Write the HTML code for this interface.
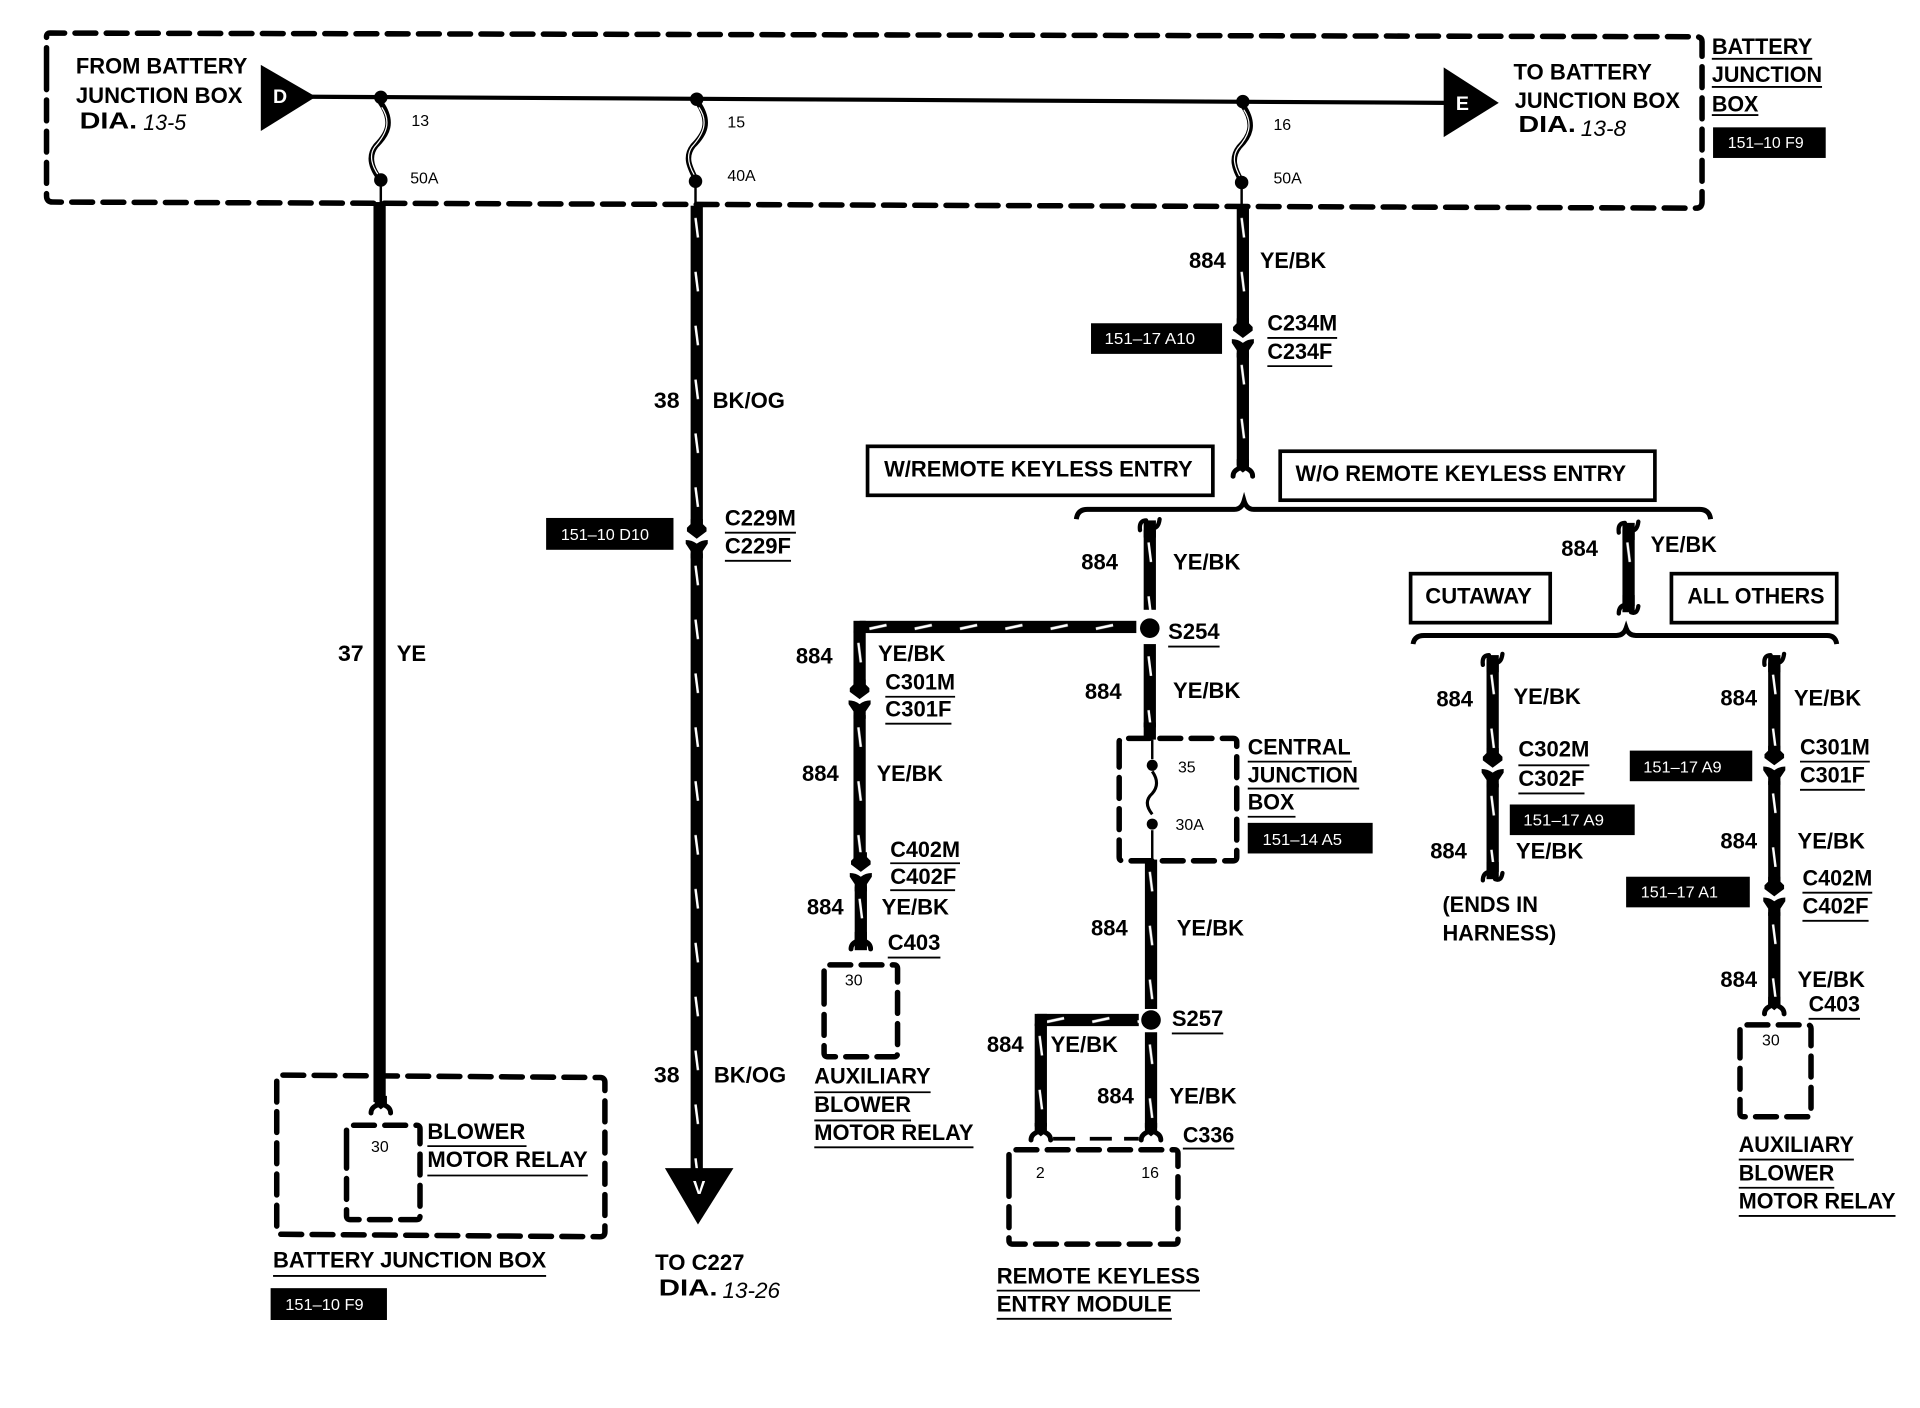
<!DOCTYPE html>
<html><head><meta charset="utf-8"><style>
html,body{margin:0;padding:0;background:#fff}
svg{display:block}
text{font-family:"Liberation Sans",sans-serif;fill:#000}
.b{font-weight:700;font-size:18px}
.s{font-size:13px}
.w{font-size:13px;fill:#fff}
.d{font-weight:700;font-size:19px}
.i{font-style:italic;font-size:18px}
.u{stroke:#000;stroke-width:1.5;fill:none}
.dash{stroke:#000;stroke-width:4.5;fill:none;stroke-linecap:round;stroke-dasharray:17 8.5}
.r{stroke:#000;stroke-width:3;fill:#fff}
</style></head><body>
<svg xmlns="http://www.w3.org/2000/svg" width="1920" height="1408" viewBox="0 0 1568 1149.87">
<defs>
<pattern id="v" patternUnits="userSpaceOnUse" width="10" height="44"><rect width="10" height="44" fill="#000"/><path d="M4 10L6 26" stroke="#fff" stroke-width="2"/></pattern>
<pattern id="h" patternUnits="userSpaceOnUse" width="37" height="10"><rect width="37" height="10" fill="#000"/><path d="M8 6.5L22 3.5" stroke="#fff" stroke-width="2.2"/></pattern>
<g id="conn"><path d="M-5 -16H5V-12L8 -9V-6L0 0L-8 -6V-9L-5 -12Z" fill="#000"/><path d="M-9 1Q-4 1 0 4Q4 1 9 1V4L5 10V16H-5V10L-9 4Z" fill="#000"/></g>
<g id="fork"><path d="M-8 0Q-8 -4 -4 -6Q-1 -7 0 -11Q1 -7 4 -6Q8 -4 8 0" fill="none" stroke="#000" stroke-width="4" stroke-linecap="round"/><path d="M-5 -14H5V-7L0 -3L-5 -7Z" fill="#000"/></g>
<g id="top"><path d="M-8 3Q-9 -5 -3 -5M8 -6Q7 2 2 1" fill="none" stroke="#000" stroke-width="3.5" stroke-linecap="round"/><rect x="-5" y="-5" width="10" height="14" fill="#000"/></g>
<g id="end"><path d="M-8 1Q-8 -5 -3 -6M8 -5Q7 2 2 0" fill="none" stroke="#000" stroke-width="3.5" stroke-linecap="round"/><rect x="-5" y="-14" width="10" height="14" fill="#000"/></g>
</defs>

<!-- top box -->
<path class="dash" d="M38 56V30Q38 27 41 27L1385 30Q1390 30 1390 34V165Q1390 170 1385 170L43 165Q38 165 38 160V56"/>
<path d="M213 53L258 79L213 107Z" fill="#000"/>
<path d="M1179 55L1224 84L1179 112Z" fill="#000"/>
<path d="M255 79L1182 84" stroke="#000" stroke-width="3.4"/>
<text x="223" y="84" font-size="16" font-weight="700" style="fill:#fff">D</text>
<text x="1189" y="90" font-size="16" font-weight="700" style="fill:#fff">E</text>

<!-- fuses -->
<g fill="none" stroke-linecap="round">
<path d="M311 84C322 100 316 110 307 119C300 128 304 138 310 146" stroke="#000" stroke-width="4.5"/>
<path d="M312 88C320 100 315 110 306 120C301 127 304 136 309 143" stroke="#fff" stroke-width="1"/>
<path d="M570 84C581 100 575 110 566 119C559 128 563 136 568 146" stroke="#000" stroke-width="4.5"/>
<path d="M571 88C579 100 574 110 565 120C560 127 563 136 567 143" stroke="#fff" stroke-width="1"/>
<path d="M1015 86C1026 102 1020 112 1012 120C1005 129 1008 138 1014 148" stroke="#000" stroke-width="4.5"/>
<path d="M1016 90C1024 102 1019 112 1011 121C1006 128 1008 136 1013 145" stroke="#fff" stroke-width="1"/>
</g>
<circle cx="311" cy="79.5" r="5.5"/><circle cx="311" cy="147" r="5.5"/>
<circle cx="569" cy="81" r="5.5"/><circle cx="568" cy="148" r="5.5"/>
<circle cx="1015" cy="83" r="5.5"/><circle cx="1014" cy="149" r="5.5"/>
<path d="M311 150V166M568 150V168M1014 150V170" stroke="#000" stroke-width="2"/>

<text class="b" x="62" y="60" textLength="140" lengthAdjust="spacingAndGlyphs">FROM BATTERY</text>
<text class="b" x="62" y="84" textLength="136" lengthAdjust="spacingAndGlyphs">JUNCTION BOX</text>
<text class="d" x="65" y="105" textLength="47" lengthAdjust="spacingAndGlyphs">DIA.</text>
<text class="i" x="117" y="106" textLength="35" lengthAdjust="spacingAndGlyphs">13-5</text>
<text class="s" x="336" y="103">13</text><text class="s" x="335" y="150">50A</text>
<text class="s" x="594" y="104">15</text><text class="s" x="594" y="148">40A</text>
<text class="s" x="1040" y="106">16</text><text class="s" x="1040" y="150">50A</text>
<text class="b" x="1236" y="65" textLength="113" lengthAdjust="spacingAndGlyphs">TO BATTERY</text>
<text class="b" x="1237" y="88" textLength="135" lengthAdjust="spacingAndGlyphs">JUNCTION BOX</text>
<text class="d" x="1240" y="108" textLength="47" lengthAdjust="spacingAndGlyphs">DIA.</text>
<text class="i" x="1291" y="111" textLength="37" lengthAdjust="spacingAndGlyphs">13-8</text>
<text class="b" x="1398" y="44" textLength="82" lengthAdjust="spacingAndGlyphs">BATTERY</text>
<path class="u" d="M1398 48H1480M1398 71H1488M1398 94H1436"/>
<text class="b" x="1398" y="67" textLength="90" lengthAdjust="spacingAndGlyphs">JUNCTION</text>
<text class="b" x="1398" y="91" textLength="38" lengthAdjust="spacingAndGlyphs">BOX</text>
<rect x="1399" y="104" width="92" height="25"/>
<text class="w" x="1411" y="121" textLength="62" lengthAdjust="spacingAndGlyphs">151–10 F9</text>

<!-- wire 37 -->
<rect x="305" y="165" width="10" height="735"/>
<use href="#fork" x="311" y="909"/>
<text class="b" x="276" y="540" textLength="21" lengthAdjust="spacingAndGlyphs">37</text>
<text class="b" x="324" y="540" textLength="24" lengthAdjust="spacingAndGlyphs">YE</text>
<path class="dash" d="M226 900V882Q226 878 230 878L490 880Q494 880 494 884V1006Q494 1010 490 1010L230 1008Q226 1008 226 1004V900"/>
<path class="dash" d="M283 940V922Q283 919 286 919H340Q343 919 343 922V993Q343 996 340 996H286Q283 996 283 993V940"/>
<text class="s" x="303" y="941">30</text>
<text class="b" x="349" y="930" textLength="80" lengthAdjust="spacingAndGlyphs">BLOWER</text>
<text class="b" x="349" y="953" textLength="131" lengthAdjust="spacingAndGlyphs">MOTOR RELAY</text>
<path class="u" d="M349 936H430M349 960H480M223 1042H446"/>
<text class="b" x="223" y="1035" textLength="223" lengthAdjust="spacingAndGlyphs">BATTERY JUNCTION BOX</text>
<rect x="221" y="1052" width="95" height="26"/>
<text class="w" x="233" y="1070" textLength="64" lengthAdjust="spacingAndGlyphs">151–10 F9</text>

<!-- wire 38 -->
<rect width="10" height="264" fill="url(#v)" transform="translate(564 168)"/>
<use href="#conn" x="569" y="440"/>
<rect width="10" height="506" fill="url(#v)" transform="translate(564 452)"/>
<path d="M543 954H599L570 1000Z" fill="#000"/>
<text x="566" y="975" font-size="15" font-weight="700" style="fill:#fff">V</text>
<text class="b" x="534" y="333" textLength="21" lengthAdjust="spacingAndGlyphs">38</text>
<text class="b" x="582" y="333" textLength="59" lengthAdjust="spacingAndGlyphs">BK/OG</text>
<text class="b" x="534" y="884" textLength="21" lengthAdjust="spacingAndGlyphs">38</text>
<text class="b" x="583" y="884" textLength="59" lengthAdjust="spacingAndGlyphs">BK/OG</text>
<rect x="446" y="423" width="104" height="26"/>
<text class="w" x="458" y="441" textLength="72" lengthAdjust="spacingAndGlyphs">151–10 D10</text>
<text class="b" x="592" y="429" textLength="58" lengthAdjust="spacingAndGlyphs">C229M</text>
<text class="b" x="592" y="452" textLength="54" lengthAdjust="spacingAndGlyphs">C229F</text>
<path class="u" d="M592 435H650M592 458H646"/>
<text class="b" x="535" y="1037" textLength="73" lengthAdjust="spacingAndGlyphs">TO C227</text>
<text class="d" x="538" y="1058" textLength="48" lengthAdjust="spacingAndGlyphs">DIA.</text>
<text class="i" x="590" y="1060" textLength="47" lengthAdjust="spacingAndGlyphs">13-26</text>

<!-- wire 884 top -->
<rect width="10" height="100" fill="url(#v)" transform="translate(1010 168)"/>
<use href="#conn" x="1015" y="276"/>
<rect width="10" height="92" fill="url(#v)" transform="translate(1010 288)"/>
<use href="#fork" x="1015" y="389"/>
<text class="b" x="971" y="219" textLength="30" lengthAdjust="spacingAndGlyphs">884</text>
<text class="b" x="1029" y="219" textLength="54" lengthAdjust="spacingAndGlyphs">YE/BK</text>
<rect x="891" y="264" width="107" height="25"/>
<text class="w" x="902" y="281" textLength="74" lengthAdjust="spacingAndGlyphs">151–17 A10</text>
<text class="b" x="1035" y="270" textLength="57" lengthAdjust="spacingAndGlyphs">C234M</text>
<text class="b" x="1035" y="293" textLength="53" lengthAdjust="spacingAndGlyphs">C234F</text>
<path class="u" d="M1035 276H1092M1035 299H1088"/>

<rect class="r" x="708.5" y="364.5" width="282" height="40"/>
<text class="b" x="722" y="389" textLength="252" lengthAdjust="spacingAndGlyphs">W/REMOTE KEYLESS ENTRY</text>
<rect class="r" x="1045.5" y="368.5" width="306" height="40"/>
<text class="b" x="1058" y="393" textLength="270" lengthAdjust="spacingAndGlyphs">W/O REMOTE KEYLESS ENTRY</text>

<path d="M879 424Q880 416 888 416H1008Q1014 416 1016 409Q1018 416 1024 416H1388Q1396 416 1397 424" fill="none" stroke="#000" stroke-width="4"/>
<path d="M1154 526Q1155 519 1163 519H1320Q1326 519 1328 513Q1330 519 1336 519H1492Q1499 519 1500 526" fill="none" stroke="#000" stroke-width="4"/>

<!-- center column -->
<use href="#top" x="939" y="430"/>
<rect width="10" height="65" fill="url(#v)" transform="translate(934 433)"/>
<text class="b" x="883" y="465" textLength="30" lengthAdjust="spacingAndGlyphs">884</text>
<text class="b" x="958" y="465" textLength="55" lengthAdjust="spacingAndGlyphs">YE/BK</text>
<circle cx="939" cy="513" r="8"/>
<rect width="10" height="68" fill="url(#v)" transform="translate(934 526)"/>
<rect x="934" y="590" width="10" height="14"/>
<text class="b" x="954" y="522" textLength="42" lengthAdjust="spacingAndGlyphs">S254</text>
<path class="u" d="M954 528H996"/>
<text class="b" x="886" y="571" textLength="30" lengthAdjust="spacingAndGlyphs">884</text>
<text class="b" x="958" y="570" textLength="55" lengthAdjust="spacingAndGlyphs">YE/BK</text>

<!-- left branch -->
<rect width="226" height="10" fill="url(#h)" transform="translate(702 507)"/>
<path d="M697 507H707V517H697Z"/>
<rect width="10" height="48" fill="url(#v)" transform="translate(697 515)"/>
<use href="#conn" x="702" y="571"/>
<rect width="10" height="118" fill="url(#v)" transform="translate(697 584)"/>
<use href="#conn" x="703" y="712"/>
<rect width="10" height="52" fill="url(#v)" transform="translate(698 724)"/>
<use href="#fork" x="703" y="775"/>
<text class="b" x="650" y="542" textLength="30" lengthAdjust="spacingAndGlyphs">884</text>
<text class="b" x="717" y="540" textLength="55" lengthAdjust="spacingAndGlyphs">YE/BK</text>
<text class="b" x="723" y="563" textLength="57" lengthAdjust="spacingAndGlyphs">C301M</text>
<text class="b" x="723" y="585" textLength="54" lengthAdjust="spacingAndGlyphs">C301F</text>
<path class="u" d="M723 569H780M723 591H777"/>
<text class="b" x="655" y="638" textLength="30" lengthAdjust="spacingAndGlyphs">884</text>
<text class="b" x="716" y="638" textLength="54" lengthAdjust="spacingAndGlyphs">YE/BK</text>
<text class="b" x="727" y="700" textLength="57" lengthAdjust="spacingAndGlyphs">C402M</text>
<text class="b" x="727" y="722" textLength="54" lengthAdjust="spacingAndGlyphs">C402F</text>
<path class="u" d="M727 705H784M727 727H780"/>
<text class="b" x="659" y="747" textLength="30" lengthAdjust="spacingAndGlyphs">884</text>
<text class="b" x="720" y="747" textLength="55" lengthAdjust="spacingAndGlyphs">YE/BK</text>
<text class="b" x="725" y="776" textLength="43" lengthAdjust="spacingAndGlyphs">C403</text>
<path class="u" d="M725 782H768"/>
<path class="dash" d="M673 810V791Q673 788 676 788H730Q733 788 733 791V860Q733 863 730 863H676Q673 863 673 860V810"/>
<text class="s" x="690" y="805">30</text>
<text class="b" x="665" y="885" textLength="95" lengthAdjust="spacingAndGlyphs">AUXILIARY</text>
<text class="b" x="665" y="908" textLength="79" lengthAdjust="spacingAndGlyphs">BLOWER</text>
<text class="b" x="665" y="931" textLength="130" lengthAdjust="spacingAndGlyphs">MOTOR RELAY</text>
<path class="u" d="M665 892H760M665 915H744M665 937H795"/>

<!-- central junction box -->
<path class="dash" d="M914 622V606Q914 603 917 603H1007Q1010 603 1010 606V700Q1010 703 1007 703H917Q914 703 914 700V622"/>
<path d="M941 604V620" stroke="#000" stroke-width="2"/>
<circle cx="941" cy="625" r="4.5"/><circle cx="941" cy="673" r="4.5"/>
<path d="M941 630Q948 640 941 648Q933 655 941 665" fill="none" stroke="#000" stroke-width="2.5"/>
<path d="M941 678V702" stroke="#000" stroke-width="2"/>
<text class="s" x="962" y="631">35</text>
<text class="s" x="960" y="678">30A</text>
<text class="b" x="1019" y="616" textLength="84" lengthAdjust="spacingAndGlyphs">CENTRAL</text>
<text class="b" x="1019" y="639" textLength="90" lengthAdjust="spacingAndGlyphs">JUNCTION</text>
<text class="b" x="1019" y="661" textLength="38" lengthAdjust="spacingAndGlyphs">BOX</text>
<path class="u" d="M1019 622H1104M1019 644H1110M1019 667H1058"/>
<rect x="1019" y="672" width="102" height="25"/>
<text class="w" x="1031" y="690" textLength="65" lengthAdjust="spacingAndGlyphs">151–14 A5</text>
<rect width="10" height="122" fill="url(#v)" transform="translate(935 702)"/>
<text class="b" x="891" y="764" textLength="30" lengthAdjust="spacingAndGlyphs">884</text>
<text class="b" x="961" y="764" textLength="55" lengthAdjust="spacingAndGlyphs">YE/BK</text>
<circle cx="940" cy="833" r="8"/>
<text class="b" x="957" y="838" textLength="42" lengthAdjust="spacingAndGlyphs">S257</text>
<path class="u" d="M957 844H999"/>
<rect width="83" height="10" fill="url(#h)" transform="translate(847 828)"/>
<rect x="845" y="828" width="10" height="10"/>
<rect width="10" height="84" fill="url(#v)" transform="translate(845 836)"/>
<use href="#fork" x="850" y="931"/>
<rect width="10" height="78" fill="url(#v)" transform="translate(935 843)"/>
<use href="#fork" x="940" y="931"/>
<path d="M860 930H878M890 930H908M918 930H930" stroke="#000" stroke-width="3"/>
<text class="b" x="806" y="859" textLength="30" lengthAdjust="spacingAndGlyphs">884</text>
<text class="b" x="858" y="859" textLength="55" lengthAdjust="spacingAndGlyphs">YE/BK</text>
<text class="b" x="896" y="901" textLength="30" lengthAdjust="spacingAndGlyphs">884</text>
<text class="b" x="955" y="901" textLength="55" lengthAdjust="spacingAndGlyphs">YE/BK</text>
<text class="b" x="966" y="933" textLength="42" lengthAdjust="spacingAndGlyphs">C336</text>
<path class="u" d="M966 938H1008"/>
<path class="dash" d="M824 960V942Q824 939 827 939H959Q962 939 962 942V1013Q962 1016 959 1016H827Q824 1016 824 1013V960"/>
<text class="s" x="846" y="962">2</text>
<text class="s" x="932" y="962">16</text>
<text class="b" x="814" y="1048" textLength="166" lengthAdjust="spacingAndGlyphs">REMOTE KEYLESS</text>
<text class="b" x="814" y="1071" textLength="143" lengthAdjust="spacingAndGlyphs">ENTRY MODULE</text>
<path class="u" d="M814 1054H980M814 1077H957"/>

<!-- right section -->
<use href="#top" x="1330" y="432"/>
<rect width="10" height="62" fill="url(#v)" transform="translate(1325 433)"/>
<use href="#end" x="1330" y="500"/>
<text class="b" x="1275" y="454" textLength="30" lengthAdjust="spacingAndGlyphs">884</text>
<text class="b" x="1348" y="451" textLength="54" lengthAdjust="spacingAndGlyphs">YE/BK</text>
<rect class="r" x="1152" y="468.5" width="114" height="40"/>
<text class="b" x="1164" y="493" textLength="87" lengthAdjust="spacingAndGlyphs">CUTAWAY</text>
<rect class="r" x="1365" y="468.5" width="135" height="40"/>
<text class="b" x="1378" y="493" textLength="112" lengthAdjust="spacingAndGlyphs">ALL OTHERS</text>

<use href="#top" x="1219" y="540"/>
<rect width="10" height="78" fill="url(#v)" transform="translate(1214 541)"/>
<use href="#conn" x="1219" y="627"/>
<rect width="10" height="72" fill="url(#v)" transform="translate(1214 640)"/>
<use href="#end" x="1219" y="718"/>
<text class="b" x="1173" y="577" textLength="30" lengthAdjust="spacingAndGlyphs">884</text>
<text class="b" x="1236" y="575" textLength="55" lengthAdjust="spacingAndGlyphs">YE/BK</text>
<text class="b" x="1240" y="618" textLength="58" lengthAdjust="spacingAndGlyphs">C302M</text>
<text class="b" x="1240" y="642" textLength="54" lengthAdjust="spacingAndGlyphs">C302F</text>
<path class="u" d="M1240 625H1298M1240 648H1294"/>
<rect x="1233" y="657" width="102" height="25"/>
<text class="w" x="1244" y="674" textLength="66" lengthAdjust="spacingAndGlyphs">151–17 A9</text>
<text class="b" x="1168" y="701" textLength="30" lengthAdjust="spacingAndGlyphs">884</text>
<text class="b" x="1238" y="701" textLength="55" lengthAdjust="spacingAndGlyphs">YE/BK</text>
<text class="b" x="1178" y="745" textLength="78" lengthAdjust="spacingAndGlyphs">(ENDS IN</text>
<text class="b" x="1178" y="768" textLength="93" lengthAdjust="spacingAndGlyphs">HARNESS)</text>

<use href="#top" x="1449" y="540"/>
<rect width="10" height="76" fill="url(#v)" transform="translate(1444 541)"/>
<use href="#conn" x="1449" y="625"/>
<rect width="10" height="88" fill="url(#v)" transform="translate(1444 638)"/>
<use href="#conn" x="1449" y="732"/>
<rect width="10" height="78" fill="url(#v)" transform="translate(1444 745)"/>
<use href="#fork" x="1449" y="828"/>
<text class="b" x="1405" y="576" textLength="30" lengthAdjust="spacingAndGlyphs">884</text>
<text class="b" x="1465" y="576" textLength="55" lengthAdjust="spacingAndGlyphs">YE/BK</text>
<text class="b" x="1470" y="616" textLength="57" lengthAdjust="spacingAndGlyphs">C301M</text>
<text class="b" x="1470" y="639" textLength="53" lengthAdjust="spacingAndGlyphs">C301F</text>
<path class="u" d="M1470 622H1527M1470 645H1523"/>
<rect x="1331" y="613" width="100" height="25"/>
<text class="w" x="1342" y="631" textLength="64" lengthAdjust="spacingAndGlyphs">151–17 A9</text>
<text class="b" x="1405" y="693" textLength="30" lengthAdjust="spacingAndGlyphs">884</text>
<text class="b" x="1468" y="693" textLength="55" lengthAdjust="spacingAndGlyphs">YE/BK</text>
<text class="b" x="1472" y="723" textLength="57" lengthAdjust="spacingAndGlyphs">C402M</text>
<text class="b" x="1472" y="746" textLength="54" lengthAdjust="spacingAndGlyphs">C402F</text>
<path class="u" d="M1472 729H1529M1472 752H1526"/>
<rect x="1328" y="716" width="101" height="25"/>
<text class="w" x="1340" y="733" textLength="63" lengthAdjust="spacingAndGlyphs">151–17 A1</text>
<text class="b" x="1405" y="806" textLength="30" lengthAdjust="spacingAndGlyphs">884</text>
<text class="b" x="1468" y="806" textLength="55" lengthAdjust="spacingAndGlyphs">YE/BK</text>
<text class="b" x="1477" y="826" textLength="42" lengthAdjust="spacingAndGlyphs">C403</text>
<path class="u" d="M1477 832H1519"/>
<path class="dash" d="M1421 858V840Q1421 837 1424 837H1476Q1479 837 1479 840V909Q1479 912 1476 912H1424Q1421 912 1421 909V858"/>
<text class="s" x="1439" y="854">30</text>
<text class="b" x="1420" y="941" textLength="94" lengthAdjust="spacingAndGlyphs">AUXILIARY</text>
<text class="b" x="1420" y="964" textLength="78" lengthAdjust="spacingAndGlyphs">BLOWER</text>
<text class="b" x="1420" y="987" textLength="128" lengthAdjust="spacingAndGlyphs">MOTOR RELAY</text>
<path class="u" d="M1420 947H1514M1420 970H1498M1420 993H1548"/>
</svg>
</body></html>
